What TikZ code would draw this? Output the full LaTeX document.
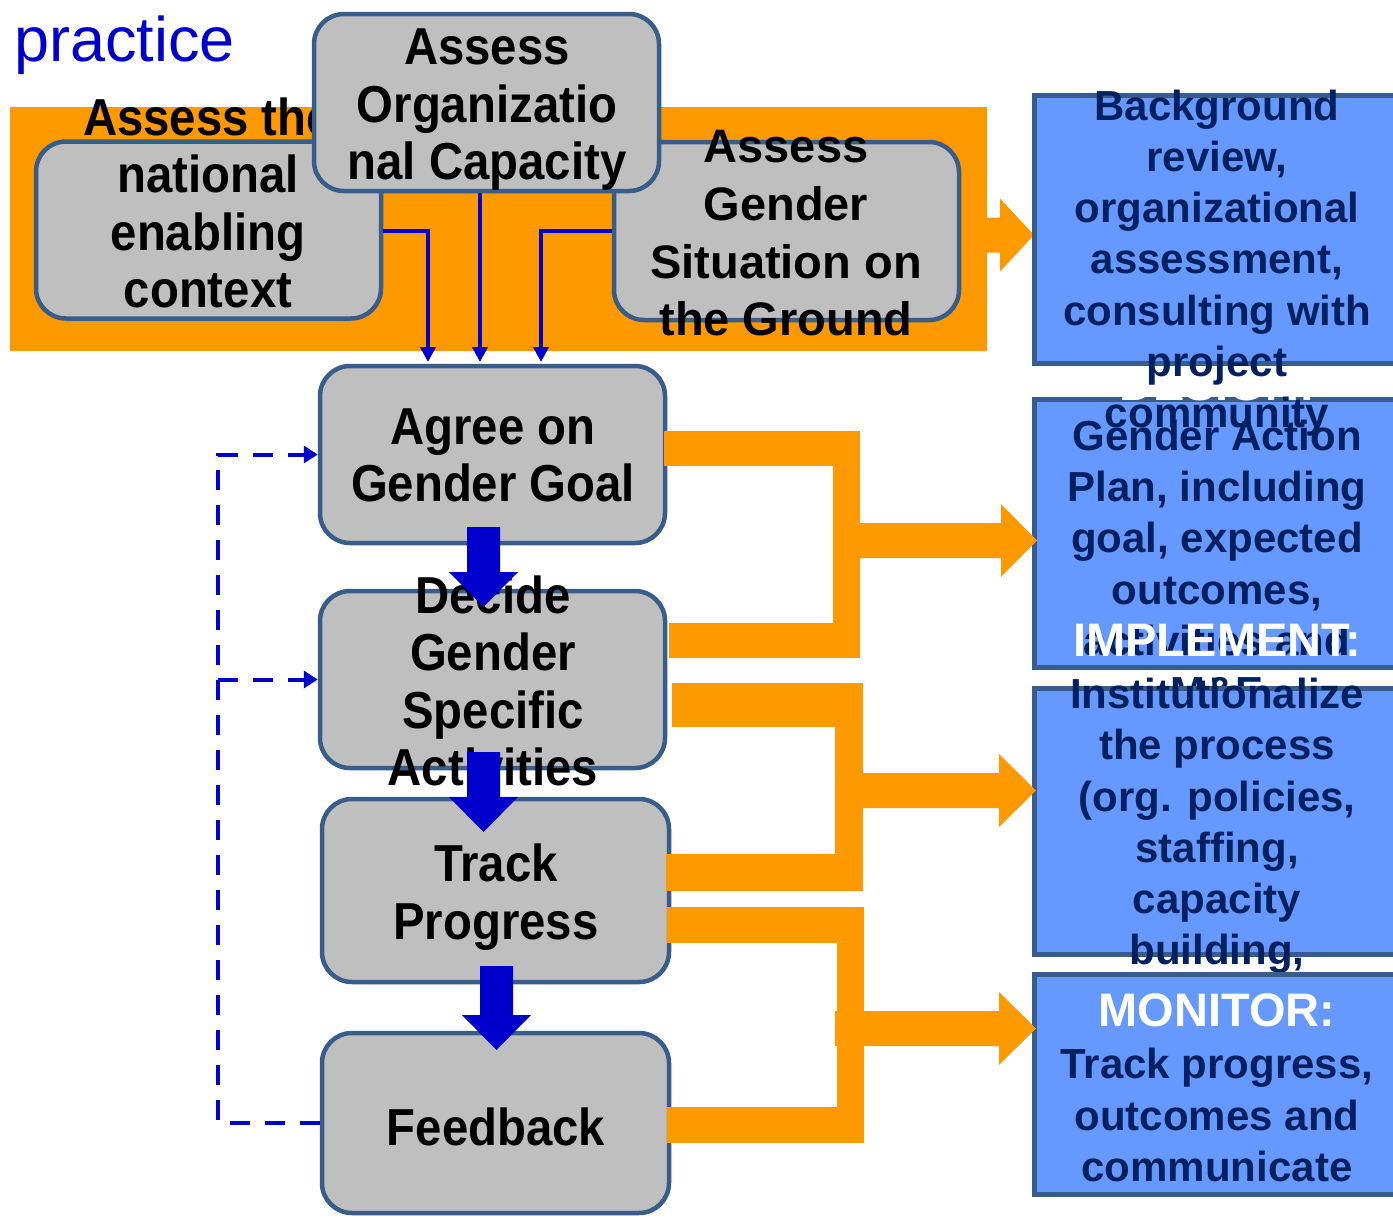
\documentclass[tikz,border=0pt]{standalone}
\usepackage{fontspec}
\setmainfont{Liberation Sans}
\newfontfamily\condfont{Liberation Sans}[FakeStretch=0.91]
\usetikzlibrary{arrows.meta}

\definecolor{boxorange}{HTML}{FF9900}
\definecolor{boxgray}{HTML}{BFBFBF}
\definecolor{boxedge}{HTML}{385D8A}
\definecolor{boxblue}{HTML}{6699FF}
\definecolor{flowblue}{HTML}{0000CC}
\definecolor{navy}{HTML}{002060}

\tikzset{
  stepbox/.style={draw=boxedge, line width=4.5pt, fill=boxgray, rounded corners=30pt,
    inner sep=0pt, minimum width=345pt, minimum height=177pt},
  outbox/.style={draw=boxedge, line width=5pt, fill=boxblue, inner sep=0pt,
    minimum width=390pt},
  condtext/.style={font=\condfont\bfseries\fontsize{52}{57.5}\selectfont, align=center, inner sep=0pt},
  regtext/.style={font=\bfseries\fontsize{47}{57.7}\selectfont, align=center, inner sep=0pt},
  bodytext/.style={font=\bfseries\fontsize{42}{51.2}\selectfont, text=navy, align=center, inner sep=0pt},
  headtext/.style={font=\bfseries\fontsize{47}{54}\selectfont, text=white, inner sep=0pt},
  thinflow/.style={draw=flowblue, line width=4pt, -{Triangle[length=15pt,width=15pt]}},
  dashflow/.style={draw=flowblue, line width=4pt, dash pattern=on 20pt off 15pt,
    -{Triangle[length=14pt,width=17pt]}},
  dashline/.style={draw=flowblue, line width=4pt, dash pattern=on 20pt off 15pt},
}

% downward block arrow: centre x, top y, tip y
\newcommand{\blockdown}[3]{%
  \fill[flowblue] (#1-16.5,#2) -- (#1+16.5,#2) -- (#1+16.5,#3-35) -- (#1+34.5,#3-35)
    -- (#1,#3) -- (#1-34.5,#3-35) -- (#1-16.5,#3-35) -- cycle;}
% rightward block arrow: start x, centre y, head base x, tip x
\newcommand{\blockright}[4]{%
  \fill[boxorange] (#1,#2-17.5) -- (#3,#2-17.5) -- (#3,#2-36.5) -- (#4,#2)
    -- (#3,#2+36.5) -- (#3,#2+17.5) -- (#1,#2+17.5) -- cycle;}

\begin{document}
\begin{tikzpicture}[x=1pt,y=-1pt]
\clip (0,0) rectangle (1393,1218);
\fill[white] (0,0) rectangle (1393,1218);

% heading
\node[anchor=base west, font=\fontsize{63}{70}\selectfont, text=flowblue, inner sep=0pt]
  (title) at (14,61) {practice};

% assessment band
\node[fill=boxorange, inner sep=0pt, minimum width=977pt, minimum height=244pt]
  (band) at (498.5,229) {};
\blockright{985}{235}{1000}{1034}

% three assessment boxes
\node[stepbox] (A) at (208.5,230) {};
\node[condtext] (tA) at (208,203) {Assess the\\national\\enabling\\context};
\node[stepbox, minimum height=178pt] (C) at (786.5,231) {};
\node[regtext] (tC) at (786,233.5) {Assess\\Gender\\Situation on\\the Ground};
\node[stepbox] (B) at (486.5,102.5) {};
\node[condtext] (tB) at (487,110) {Assess\\Organizatio\\nal Capacity};

% thin arrows into the goal box
\coordinate (dA) at (428,362);
\coordinate (dB) at (480,362);
\coordinate (dC) at (541,362);
\draw[thinflow] ([yshift=-1pt]A.east) -| (dA);
\draw[thinflow] (dB |- B.south) -- (dB);
\draw[thinflow] (C.west) -| (dC);

% output boxes on the right
\node[outbox, minimum height=268pt] (R2) at (1229,533.5) {};
\node[headtext] (h2) at (1217,384) {DESIGN:};
\node[bodytext] (b2) at (1217,563.5) {Gender Action\\Plan, including\\goal, expected\\outcomes,\\activities and\\M\&E};
\node[outbox, minimum height=266pt] (R3) at (1229,821.5) {};
\node[headtext] (h3) at (1217,640) {IMPLEMENT:};
\node[bodytext] (b3) at (1217,826) {Institutionalize\\the process\\(org. policies,\\staffing,\\capacity\\building,};
\node[outbox, minimum height=268pt] (R1) at (1229,229.5) {};
\node[bodytext] (b1) at (1217,263) {Background\\review,\\organizational\\assessment,\\consulting with\\project\\community};
\node[outbox, minimum height=220pt] (R4) at (1229,1084.5) {};
\node[headtext] (h4) at (1217,1010) {MONITOR:};
\node[bodytext] (b4) at (1217,1115) {Track progress,\\outcomes and\\communicate};

% process column
\node[stepbox] (D) at (492.5,454.5) {};
\node[condtext] (tD) at (493,455.5) {Agree on\\Gender Goal};
\node[stepbox] (E) at (492.5,679.5) {};
\node[condtext] (tE) at (493,681) {Decide\\Gender\\Specific\\Activities};
\node[stepbox, minimum width=347pt, minimum height=183pt] (F) at (495.5,890.5) {};
\node[condtext] (tF) at (496,897) {Track\\Progress};
\node[stepbox, minimum width=347pt, minimum height=180pt] (G) at (495.5,1123) {};
\node[condtext] (tG) at (496,1127) {Feedback};

% orange brackets from the process column to the outputs
\fill[boxorange] (664,431) rectangle (860,466);
\fill[boxorange] (833,431) rectangle (860,658);
\fill[boxorange] (669,623) rectangle (860,658);
\blockright{858}{540.5}{1001}{1037}

\fill[boxorange] (672,683) rectangle (863,727);
\fill[boxorange] (835,683) rectangle (863,891);
\fill[boxorange] (666,854) rectangle (863,891);
\blockright{861}{790.5}{999}{1036}

\fill[boxorange] (667,907) rectangle (864,943);
\fill[boxorange] (837,907) rectangle (864,1143);
\fill[boxorange] (667,1107) rectangle (864,1143);
\blockright{835}{1028.5}{999}{1036}

% block arrows down the process column
\blockdown{483.5}{527}{607}
\blockdown{483.5}{752}{832}
\blockdown{496.5}{966}{1050}

% feedback loop
\coordinate (fb) at (218,1123);
\draw[dashflow] (G.west) -- (fb) |- (D.west);
\draw[dashflow] (fb |- E.west) -- (E.west);
\end{tikzpicture}
\end{document}
